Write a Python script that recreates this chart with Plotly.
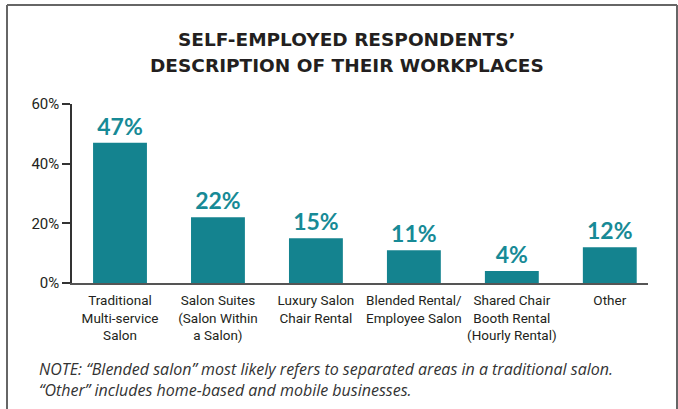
import plotly.graph_objects as go

# Workplace categories and share of self-employed respondents (%)
categories = [
    "Traditional<br>Multi-service<br>Salon",
    "Salon Suites<br>(Salon Within<br>a Salon)",
    "Luxury Salon<br>Chair Rental",
    "Blended Rental/<br>Employee Salon",
    "Shared Chair<br>Booth Rental<br>(Hourly Rental)",
    "Other",
]
shares = [47, 22, 15, 11, 4, 12]
y_ticks = [0, 20, 40, 60]
y_tick_labels = ["0%", "20%", "40%", "60%"]
title_lines = ["SELF-EMPLOYED RESPONDENTS’", "DESCRIPTION OF THEIR WORKPLACES"]

W, H = 678, 409
L, R, T, B = 72, 30, 104, 126

BAR = "#14838f"
LABEL = "#178a96"
INK = "#231f20"
TICK_FONT = "Roboto, sans-serif"


def px_x(p):
    return (p - L) / (W - L - R)


def px_y(p):
    return (H - B - p) / (H - T - B)


fig = go.Figure(
    go.Bar(
        x=list(range(len(categories))),
        y=shares,
        width=0.55,
        marker=dict(color=BAR, line=dict(width=0)),
        text=[f"{v}%" for v in shares],
        textposition="outside",
        cliponaxis=False,
        textfont=dict(family="Lato, sans-serif", size=23, color=LABEL, weight="bold"),
        hoverinfo="skip",
    )
)

fig.update_layout(
    width=W,
    height=H,
    margin=dict(l=L, r=R, t=T, b=B),
    paper_bgcolor="white",
    plot_bgcolor="white",
    showlegend=False,
    bargap=0.45,
)

fig.update_xaxes(
    range=[-0.49, 5.39],
    tickmode="array",
    tickvals=list(range(len(categories))),
    ticktext=categories,
    tickangle=0,
    ticks="",
    ticklabelstandoff=4,
    showgrid=False,
    zeroline=False,
    showline=True,
    linecolor="#555555",
    linewidth=2,
    tickfont=dict(family=TICK_FONT, size=13.5, color=INK),
)

fig.update_yaxes(
    range=[0, 60],
    tickmode="array",
    tickvals=y_ticks,
    ticktext=y_tick_labels,
    ticks="outside",
    ticklen=8,
    tickwidth=1.5,
    tickcolor="#333333",
    showgrid=False,
    zeroline=False,
    showline=True,
    linecolor="#333333",
    linewidth=1.5,
    tickfont=dict(family=TICK_FONT, size=15, color=INK),
)

# Two-line title, each line placed separately for wider leading
for line, ypix in zip(title_lines, [40, 66]):
    fig.add_annotation(
        text=f"<b>{line}</b>",
        xref="paper", yref="paper",
        x=px_x(347), y=px_y(ypix),
        xanchor="center", yanchor="middle",
        showarrow=False,
        font=dict(family="DejaVu Sans, sans-serif", size=18.5, color=INK),
    )

# Footnote
fig.add_annotation(
    text="<i>NOTE: “Blended salon” most likely refers to separated areas in a traditional salon.<br>"
         "“Other” includes home-based and mobile businesses.</i>",
    xref="paper", yref="paper",
    x=px_x(37), y=px_y(379),
    xanchor="left", yanchor="middle",
    showarrow=False,
    align="left",
    font=dict(family="Open Sans, sans-serif", size=16, color="#333333"),
)

# Frame around the panel (left, top and right edges)
frame = dict(type="line", xref="paper", yref="paper", line=dict(color="#666666", width=2))
fig.add_shape(**frame, x0=px_x(7), y0=px_y(5), x1=px_x(7), y1=px_y(409))
fig.add_shape(**frame, x0=px_x(7), y0=px_y(5), x1=px_x(677), y1=px_y(5))
fig.add_shape(**frame, x0=px_x(677), y0=px_y(5), x1=px_x(677), y1=px_y(409))

fig.write_html("out.html")
